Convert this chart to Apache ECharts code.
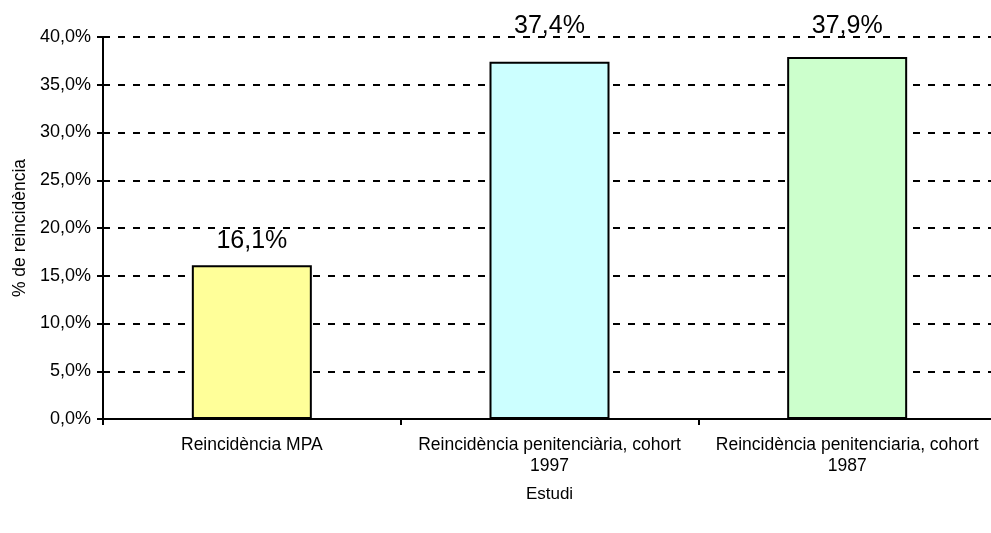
<!DOCTYPE html>
<html>
<head>
<meta charset="utf-8">
<script src="https://cdn.jsdelivr.net/npm/echarts@6/dist/echarts.min.js"></script>
<style>
  html, body { margin: 0; padding: 0; background: #fff; overflow: hidden; }
  #chart { width: 1000px; height: 533px; }
</style>
</head>
<body>
<div id="chart"></div>
<script>
// dades del gràfic
var categories = [
  "Reincidència MPA",
  "Reincidència penitenciària, cohort\n1997",
  "Reincidència penitenciaria, cohort\n1987"
];
var values = [16.1, 37.4, 37.9];
var barColors = ["#FFFF99", "#CCFFFF", "#CCFFCC"];
// desplaçament vertical de les etiquetes (com a l'original)
var labelShift = [-1, -12, -7];

var fmt = function (v, dec) {
  return v.toFixed(dec).replace(".", ",") + "%";
};

var chart = echarts.init(document.getElementById("chart"));

var option = {
  animation: false,
  backgroundColor: "#fff",
  textStyle: { fontFamily: "Liberation Sans, Arial, sans-serif" },
  grid: { left: 103, top: 37, width: 893, height: 382 },
  xAxis: {
    type: "category",
    data: categories,
    name: "Estudi",
    nameLocation: "middle",
    nameGap: 67,
    nameTextStyle: { fontSize: 17, color: "#000" },
    axisLine: { lineStyle: { color: "#000", width: 2 } },
    axisTick: { show: true, length: 6, alignWithLabel: false, lineStyle: { color: "#000", width: 2 } },
    axisLabel: { fontSize: 17.5, color: "#000", margin: 16, lineHeight: 21, interval: 0 }
  },
  yAxis: {
    type: "value",
    min: 0,
    max: 40,
    interval: 5,
    name: "% de reincidència",
    nameLocation: "middle",
    nameGap: 73,
    nameTextStyle: { fontSize: 17.5, color: "#000" },
    axisLine: { show: true, lineStyle: { color: "#000", width: 2 } },
    axisTick: { show: true, length: 6, lineStyle: { color: "#000", width: 2 } },
    axisLabel: {
      fontSize: 18, color: "#000", margin: 12,
      formatter: function (v) { return fmt(v, 1); }
    },
    splitLine: {
      show: true,
      lineStyle: { color: "#000", width: 2, type: [7, 8] }
    }
  },
  series: [{
    type: "bar",
    barWidth: 120,
    data: values.map(function (v, i) {
      return {
        value: v,
        itemStyle: { color: barColors[i], borderColor: "#000", borderWidth: 2 },
        label: { offset: [0, labelShift[i]] }
      };
    }),
    label: {
      show: true,
      position: "top",
      distance: 11,
      fontSize: 25,
      color: "#000",
      formatter: function (p) { return fmt(p.value, 1); }
    }
  }]
};

chart.setOption(option);
</script>
</body>
</html>
